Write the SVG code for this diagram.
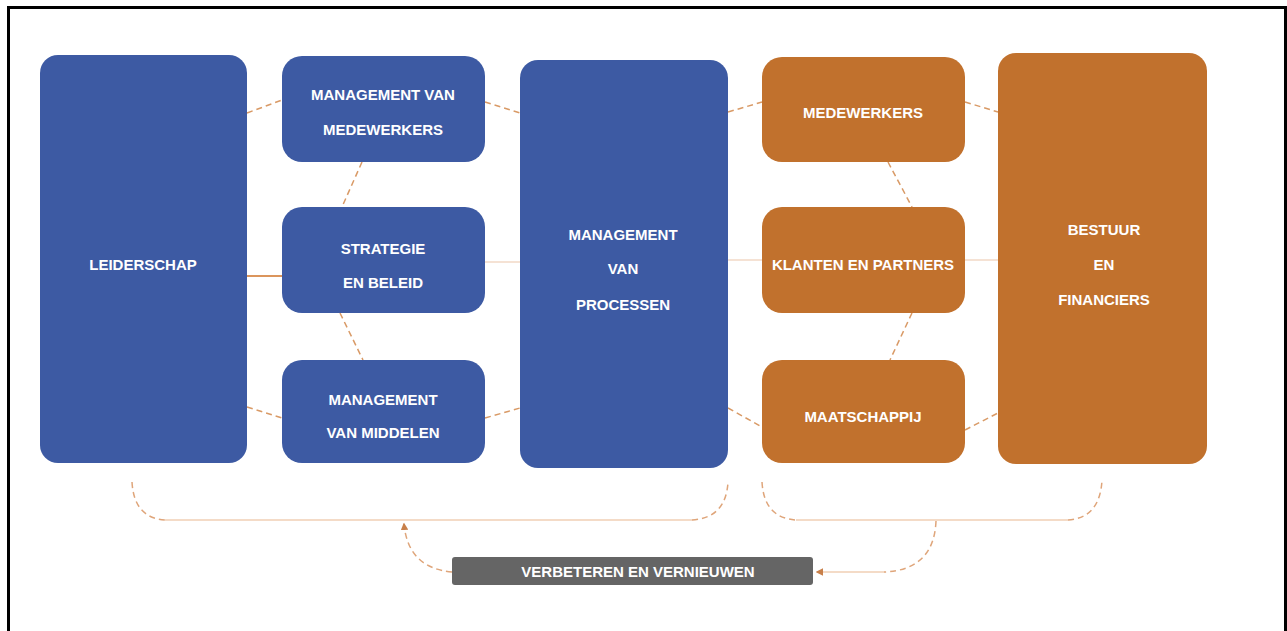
<svg xmlns="http://www.w3.org/2000/svg" width="1287" height="631" viewBox="0 0 1287 631">
<defs>
<style>
.blue{fill:#3D5AA3}
.orange{fill:#C1712D}
.lbl{font-family:"Liberation Sans",Arial,sans-serif;font-weight:bold;font-size:15px;fill:#FFFFFF;text-anchor:middle}
.dash{fill:none;stroke:#D99A66;stroke-width:1.5;stroke-dasharray:6 4}
.solid{fill:none;stroke:#F2D9C6;stroke-width:1.5}
.solidd{fill:none;stroke:#DB955C;stroke-width:2}
.br{fill:none;stroke:#F0CFB5;stroke-width:1.5}
.brd{fill:none;stroke:#DFA57A;stroke-width:1.5;stroke-dasharray:6 4}
</style>
<marker id="ah" viewBox="0 0 10 10" refX="8" refY="5" markerWidth="5" markerHeight="5" orient="auto">
<path d="M0,0 L10,5 L0,10 z" fill="#C8804A"/>
</marker>
</defs>
<rect x="0" y="0" width="1287" height="631" fill="#FFFFFF"/>
<path d="M8.5,631 V7.5 H1285.5 V631" fill="none" stroke="#000000" stroke-width="3"/>

<g id="connectors">
<path class="dash" d="M247,113 L282,100"/>
<path class="solidd" d="M247,276 L282,276"/>
<path class="dash" d="M247,407 L282,418"/>
<path class="dash" d="M362,162 L342,207"/>
<path class="dash" d="M340,313 L363,360"/>
<path class="dash" d="M485,102 L520,113"/>
<path class="solid" d="M485,262 L520,262"/>
<path class="dash" d="M485,418 L520,408"/>
<path class="dash" d="M728,112 L762,102"/>
<path class="solid" d="M728,260 L762,260"/>
<path class="dash" d="M728,408 L762,427"/>
<path class="dash" d="M888,162 L912,207"/>
<path class="dash" d="M912,313 L890,360"/>
<path class="dash" d="M965,102 L998,112"/>
<path class="solid" d="M965,260 L998,260"/>
<path class="dash" d="M965,430 L998,413"/>
<path class="brd" d="M132,482 Q134,518 165,520"/>
<path class="br" d="M165,520 H692"/>
<path class="brd" d="M692,520 Q726,518 728,482"/>
<path class="brd" d="M762,482 Q764,518 796,520"/>
<path class="br" d="M796,520 H1068"/>
<path class="brd" d="M1068,520 Q1100,518 1102,480"/>
<path class="brd" d="M452,572 Q408,568 404,524" marker-end="url(#ah)"/>
<path class="brd" d="M936,521 Q934,570 884,572"/>
<path class="br" d="M884,572 H817" marker-end="url(#ah)"/>
</g>

<g id="leiderschap">
<rect class="blue" x="40" y="55" width="207" height="408" rx="18"/>
<text class="lbl" x="143" y="270">LEIDERSCHAP</text>
</g>
<g id="management-medewerkers">
<rect class="blue" x="282" y="56" width="203" height="106" rx="20"/>
<text class="lbl" x="383" y="100">MANAGEMENT VAN</text>
<text class="lbl" x="383" y="135">MEDEWERKERS</text>
</g>
<g id="strategie-beleid">
<rect class="blue" x="282" y="207" width="203" height="106" rx="20"/>
<text class="lbl" x="383" y="254">STRATEGIE</text>
<text class="lbl" x="383" y="288">EN BELEID</text>
</g>
<g id="management-middelen">
<rect class="blue" x="282" y="360" width="203" height="103" rx="20"/>
<text class="lbl" x="383" y="405">MANAGEMENT</text>
<text class="lbl" x="383" y="438">VAN MIDDELEN</text>
</g>
<g id="management-processen">
<rect class="blue" x="520" y="60" width="208" height="408" rx="18"/>
<text class="lbl" x="623" y="240">MANAGEMENT</text>
<text class="lbl" x="623" y="274">VAN</text>
<text class="lbl" x="623" y="310">PROCESSEN</text>
</g>
<g id="medewerkers">
<rect class="orange" x="762" y="57" width="203" height="105" rx="20"/>
<text class="lbl" x="863" y="118">MEDEWERKERS</text>
</g>
<g id="klanten-partners">
<rect class="orange" x="762" y="207" width="203" height="106" rx="20"/>
<text class="lbl" x="863" y="270">KLANTEN EN PARTNERS</text>
</g>
<g id="maatschappij">
<rect class="orange" x="762" y="360" width="203" height="103" rx="20"/>
<text class="lbl" x="863" y="422">MAATSCHAPPIJ</text>
</g>
<g id="bestuur-financiers">
<rect class="orange" x="998" y="53" width="209" height="411" rx="18"/>
<text class="lbl" x="1104" y="235">BESTUUR</text>
<text class="lbl" x="1104" y="270">EN</text>
<text class="lbl" x="1104" y="305">FINANCIERS</text>
</g>
<g id="verbeteren-vernieuwen">
<rect x="452" y="557" width="361" height="28" rx="3" fill="#656565"/>
<text class="lbl" x="638" y="577">VERBETEREN EN VERNIEUWEN</text>
</g>
</svg>
